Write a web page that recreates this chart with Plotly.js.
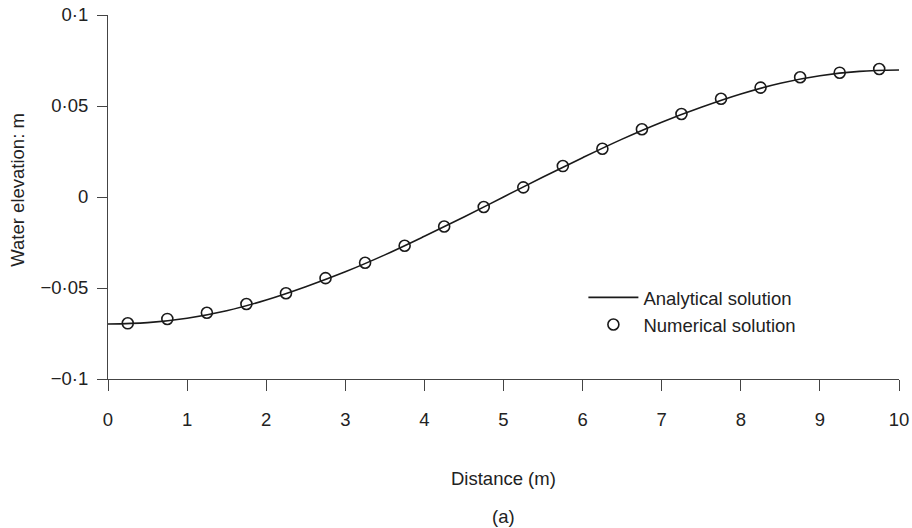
<!DOCTYPE html>
<html>
<head>
<meta charset="utf-8">
<script src="https://cdn.plot.ly/plotly-3.0.1.min.js"></script>
<style>html,body{margin:0;padding:0;background:#fff;}#chart{width:912px;height:528px;}</style>
</head>
<body>
<div id="chart"></div>
<script>
// Analytical solution
const analyticalX = [0, 0.5, 1, 1.5, 2, 2.5, 3, 3.5, 4, 4.5, 5, 5.5, 6, 6.5, 7, 7.5, 8, 8.5, 9, 9.5, 10];
const analyticalY = [-0.0698, -0.0690, -0.0666, -0.0625, -0.0566, -0.0493, -0.0411, -0.0318, -0.0216, -0.0110, 0.0,
                     0.0110, 0.0216, 0.0318, 0.0411, 0.0493, 0.0566, 0.0625, 0.0666, 0.0690, 0.0698];
// Numerical solution (circles)
const numericalX = [0.25, 0.75, 1.25, 1.75, 2.25, 2.75, 3.25, 3.75, 4.25, 4.75, 5.25, 5.75, 6.25, 6.75, 7.25, 7.75, 8.25, 8.75, 9.25, 9.75];
const numericalY = [-0.0694, -0.0670, -0.0636, -0.0588, -0.0529, -0.0446, -0.0361, -0.0268, -0.0162, -0.0055,
                    0.0053, 0.0170, 0.0265, 0.0372, 0.0456, 0.0540, 0.0601, 0.0658, 0.0683, 0.0703];
const xTickVals = [0, 1, 2, 3, 4, 5, 6, 7, 8, 9, 10];
const yTickVals = [-0.1, -0.05, 0, 0.05, 0.1];
const yTickText = ["\u22120\u00b71", "\u22120\u00b705", "0", "0\u00b705", "0\u00b71"];

const font = "Liberation Sans, Arial, Helvetica, sans-serif";
const ink = "#1a1a1a";
const fs = 18.5;

const traces = [
  {
    x: analyticalX, y: analyticalY, type: "scatter", mode: "lines",
    name: "Analytical solution",
    line: {color: ink, width: 1.6, shape: "spline"}
  },
  {
    x: numericalX, y: numericalY, type: "scatter", mode: "markers",
    name: "Numerical solution",
    marker: {symbol: "circle-open", size: 11, color: ink, line: {width: 1.6, color: ink}}
  }
];

const layout = {
  width: 912, height: 528,
  margin: {l: 108, r: 13, t: 15, b: 149},
  paper_bgcolor: "#fff", plot_bgcolor: "#fff",
  font: {family: font, size: fs, color: "#222"},
  showlegend: true,
  legend: {
    x: 0.601, y: 0.275, xanchor: "left", yanchor: "top",
    bgcolor: "rgba(0,0,0,0)", borderwidth: 0,
    font: {family: font, size: fs, color: "#222"},
    itemwidth: 50, tracegroupgap: 0
  },
  xaxis: {
    range: [0, 10], tickmode: "array", tickvals: xTickVals,
    ticks: "outside", ticklen: 11, tickwidth: 1, tickcolor: "#444",
    showline: true, linecolor: "#444", linewidth: 1,
    showgrid: false, zeroline: false, mirror: false,
    ticklabelstandoff: 13,
    tickfont: {family: font, size: fs, color: "#222"}
  },
  yaxis: {
    range: [-0.1, 0.1], tickmode: "array", tickvals: yTickVals, ticktext: yTickText,
    ticks: "outside", ticklen: 10, tickwidth: 1, tickcolor: "#444",
    showline: true, linecolor: "#444", linewidth: 1,
    showgrid: false, zeroline: false, mirror: false,
    ticklabelstandoff: 5,
    tickfont: {family: font, size: fs, color: "#222"}
  },
  annotations: [
    {text: "Distance (m)", xref: "paper", yref: "paper", x: 0.5, y: -0.272,
     xanchor: "center", yanchor: "middle", showarrow: false,
     font: {family: font, size: fs, color: "#222"}},
    {text: "(a)", xref: "paper", yref: "paper", x: 0.5, y: -0.379,
     xanchor: "center", yanchor: "middle", showarrow: false,
     font: {family: font, size: fs, color: "#222"}},
    {text: "Water elevation: m", xref: "paper", yref: "paper", x: -0.1138, y: 0.52,
     xanchor: "center", yanchor: "middle", showarrow: false, textangle: -90,
     font: {family: font, size: fs, color: "#222"}}
  ]
};

Plotly.newPlot("chart", traces, layout, {displayModeBar: false, staticPlot: true});
</script>
</body>
</html>
